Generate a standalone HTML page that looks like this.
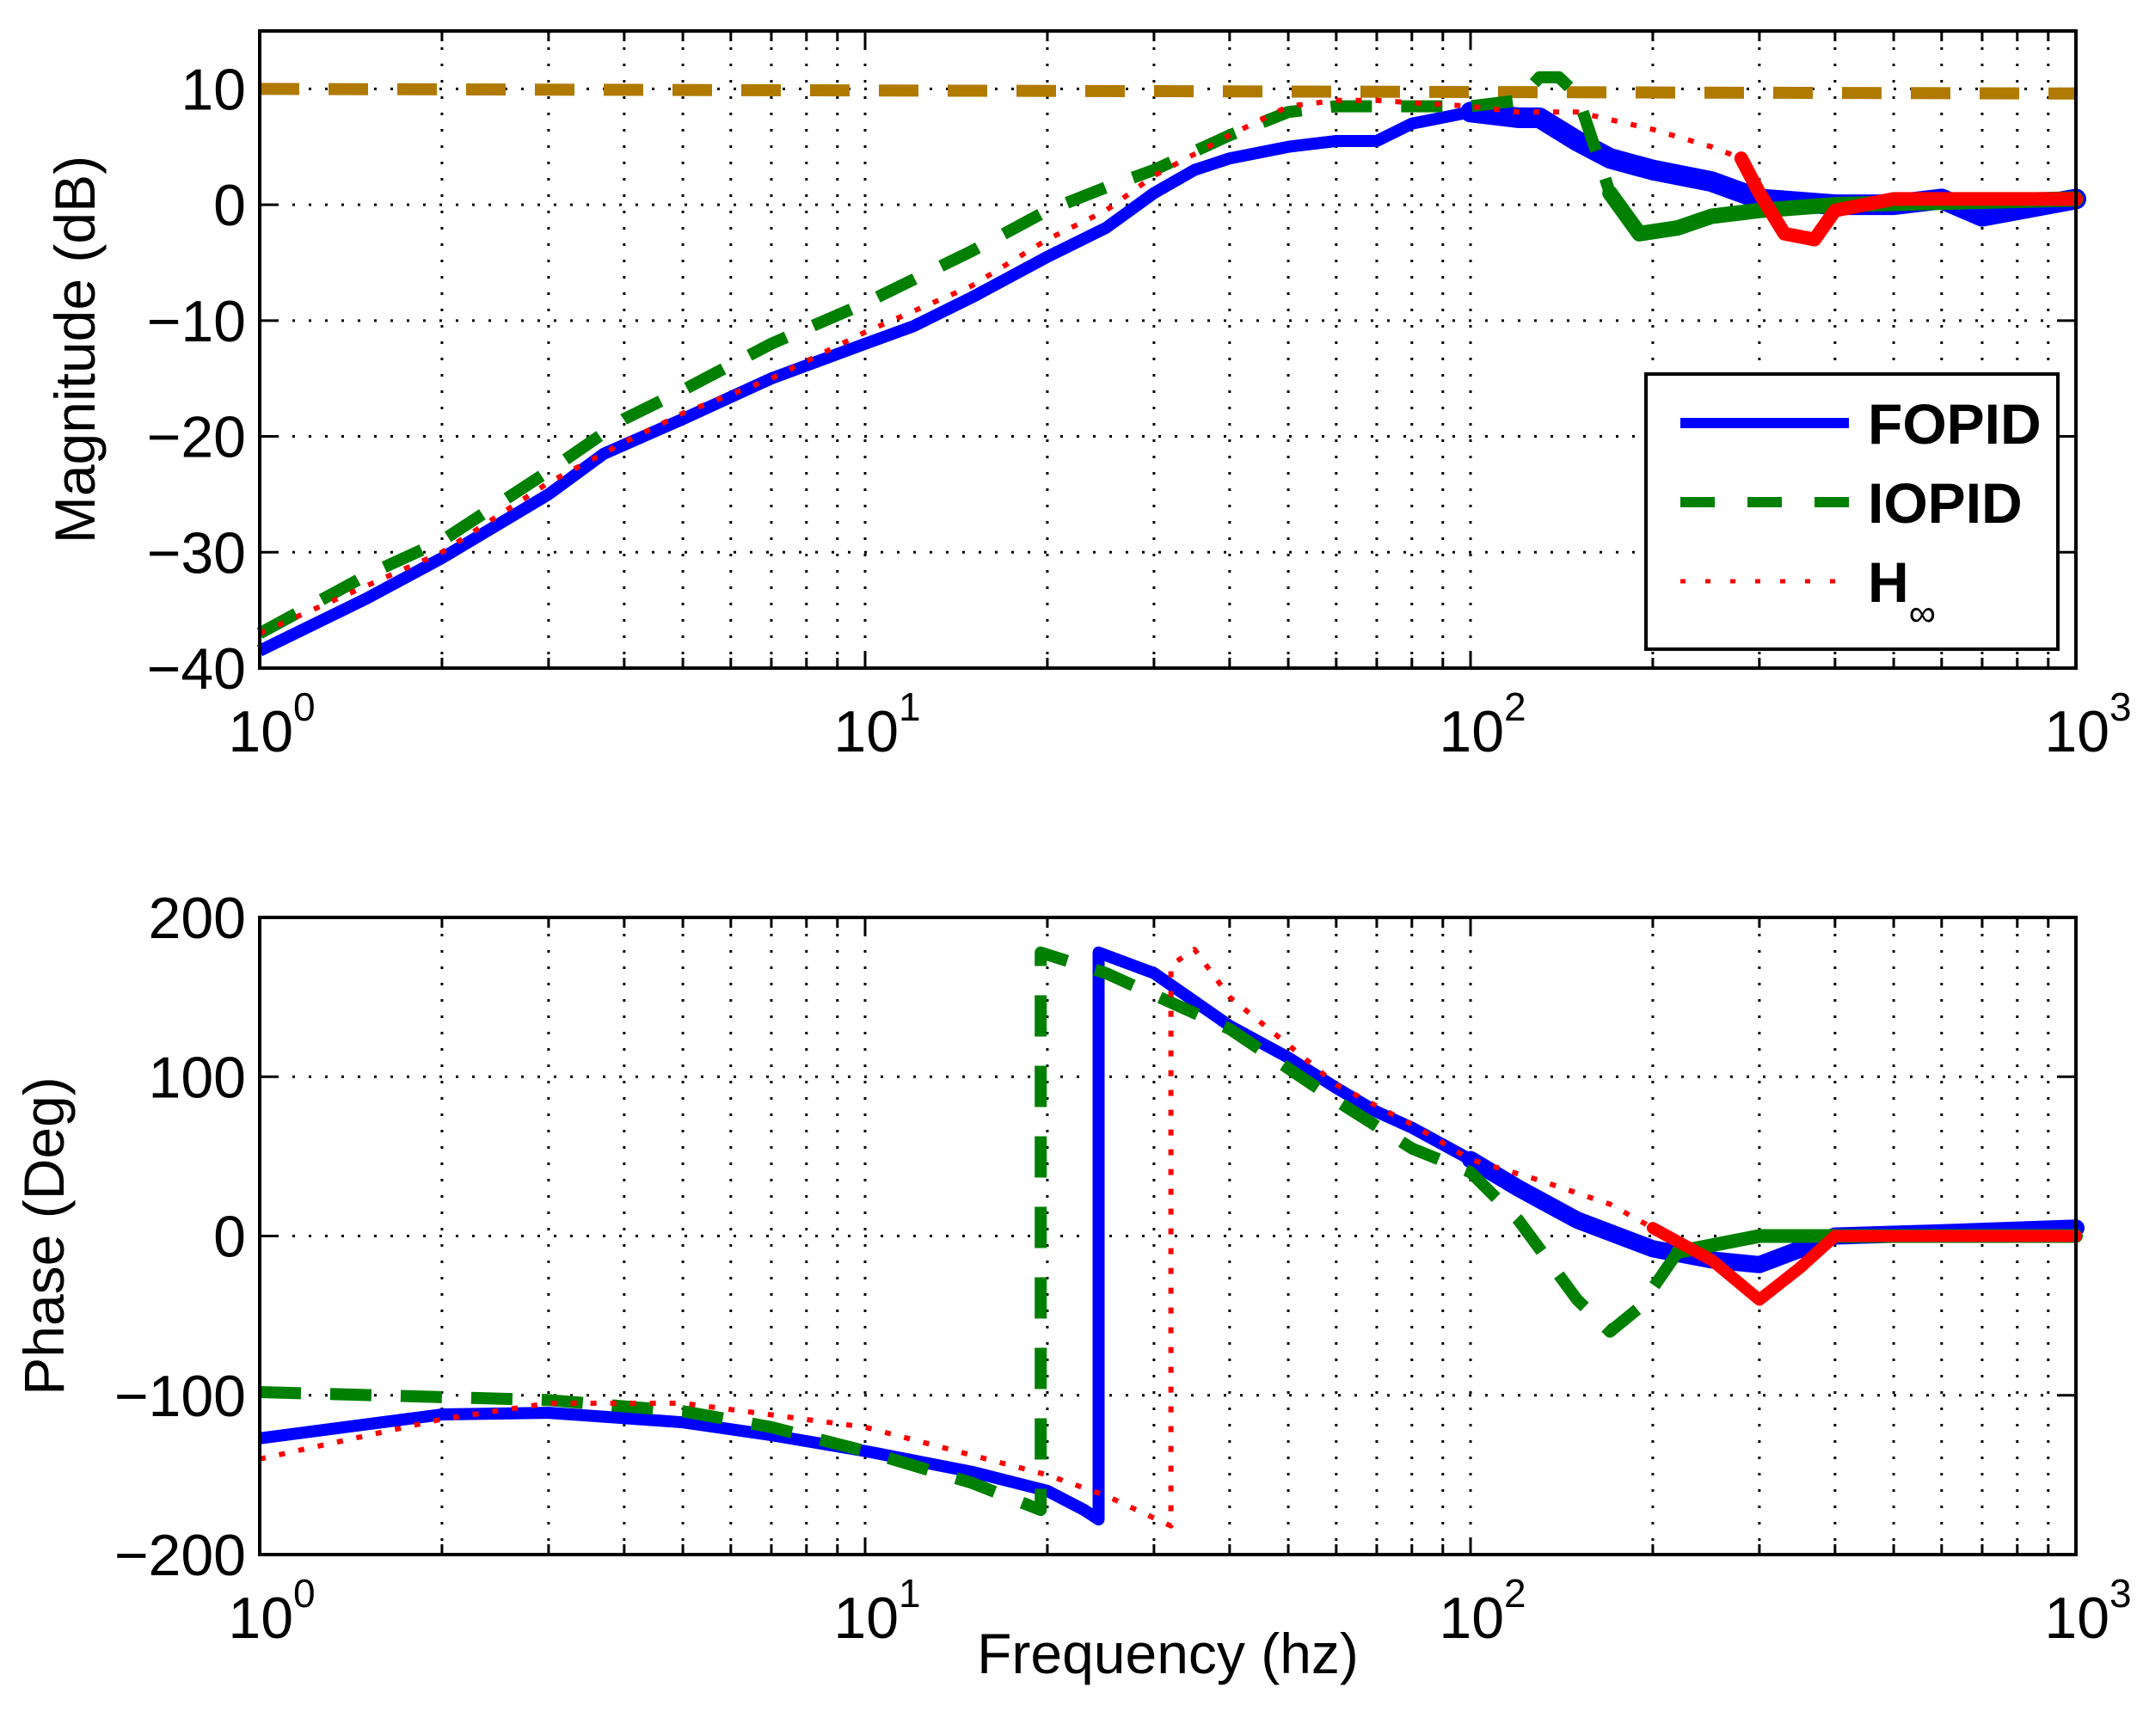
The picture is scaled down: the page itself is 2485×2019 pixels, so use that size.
<!DOCTYPE html>
<html><head><meta charset="utf-8"><style>
body{margin:0;background:#fff}
svg text{font-family:"Liberation Sans",sans-serif;fill:#000}
</style></head><body>
<svg id="c" width="2485" height="2014" xmlns="http://www.w3.org/2000/svg"></svg>
<script>
const magF=[1,1.5,2,3,3.7,5,7,10,12,15,20,25,30,35,40,50,60,70,80,100,120,130,150,170,200,250,300,400,500,600,700,1000];
const magFOPID=[-38.5,-34,-30.5,-25,-21.5,-18.5,-15,-12,-10.5,-8,-4.5,-2,1,3,4,5,5.5,5.5,7,8,7.5,7.5,5.5,4,3,2,0.5,0,0,0.5,-1,0.5];
const magIF=[1,1.5,2,3,4,5,7,10,15,20,25,30,40,50,60,70,100,120,130,140,150,170,190,220,250,300,400,1000];
const magIOPID=[-37,-32,-29,-23,-18.5,-16,-12,-8.5,-4,-0.5,1.5,3,6,8,8.5,8.5,8.5,9,11,11,9.5,1,-2.5,-2,-1,-0.5,0,0.5];
const magHF=[1,2,3,4,5,7,10,15,20,25,30,40,50,60,70,100,120,150,200,250,280,300,330,370,400,500,1000];
const magHinf=[-37,-30,-24,-20.5,-18,-15,-11,-7,-3,-0.5,2.5,6,8.5,9,9,8.5,8,8,6.5,5,4,1,-2.5,-3,-0.5,0.5,0.5];
const refF=[1,1000];
const refMag=[10,9.6];
const phF=[1,2,3,5,7,10,15,20,23,24.3,24.3,30,40,50,60,70,80,100,120,150,200,250,300,400,600,1000];
const phFOPID=[-127,-112,-111,-117,-125,-135,-148,-160,-172,-178,178,165,132,112,93,78,68,48,30,10,-8,-15,-18,0,2,5];
const phIF=[1,3,5,7,10,15,19.5,19.5,25,40,60,80,100,120,150,170,190,220,300,1000];
const phIOPID=[-98,-103,-110,-120,-135,-155,-172,178,165,130,85,55,40,10,-40,-60,-45,-10,0,0];
const phHF=[1,2,3,5,10,20,25,32,32,35,40,50,60,80,100,130,170,200,250,300,350,400,1000];
const phHinf=[-140,-115,-105,-105,-120,-150,-163,-182,170,180,150,120,95,70,48,35,20,5,-15,-40,-20,0,0];
const magTicks=[-40,-30,-20,-10,0,10];
const phTicks=[-200,-100,0,100,200];
const decades=[0,1,2,3];

const svg=document.getElementById('c');
const NS='http://www.w3.org/2000/svg';
function mk(t,a,p){const e=document.createElementNS(NS,t);for(const k in a)e.setAttribute(k,a[k]);(p||svg).appendChild(e);return e;}
const X0=302,X1=2414;
function xs(f){return X0+Math.log10(f)*(X1-X0)/3;}
function axes(top,bot,ymin,ymax,ticks,name,ylabel,ylx){
  const ys=v=>bot-(v-ymin)/(ymax-ymin)*(bot-top);
  const g=mk('g',{});
  
  
  for(let d=0;d<3;d++)for(let m=1;m<10;m++){
    const x=xs(Math.pow(10,d)*m);
    if(m>1||d>0){const l=mk('line',{x1:x,x2:x,y1:top,y2:bot,stroke:'#000','stroke-width':3,'stroke-dasharray':'3 16'},g);
      }
    const tl=m==1?20:12;
    mk('line',{x1:x,x2:x,y1:bot,y2:bot-tl,stroke:'#000','stroke-width':3},g);
    mk('line',{x1:x,x2:x,y1:top,y2:top+tl,stroke:'#000','stroke-width':3},g);
  }
  ticks.forEach(v=>{
    const y=ys(v);
    if(v>ymin&&v<ymax){const l=mk('line',{x1:X0,x2:X1,y1:y,y2:y,stroke:'#000','stroke-width':3,'stroke-dasharray':'3 16'},g);
      }
    mk('line',{x1:X0,x2:X0+20,y1:y,y2:y,stroke:'#000','stroke-width':3},g);
    mk('line',{x1:X1,x2:X1-20,y1:y,y2:y,stroke:'#000','stroke-width':3},g);
    const t=mk('text',{x:X0-16,y:y+24,'font-size':68,'text-anchor':'end'},g);
    t.textContent=(v<0?'\u2212':'')+Math.abs(v);
    
  });
  decades.forEach(d=>{
    const x=xs(Math.pow(10,d));
    const t=mk('text',{x:x+14,y:bot+97,'font-size':68,'text-anchor':'middle'},g);
    t.textContent='10';
    const s=mk('tspan',{dy:-36,'font-size':46},t);s.textContent=d;
    
  });
  const yl=mk('text',{x:ylx,y:(top+bot)/2,'font-size':66,'text-anchor':'middle',transform:`rotate(-90 ${ylx} ${(top+bot)/2})`},g);
  yl.textContent=ylabel;
  
  return ys;
}
function series(fs,vs,ys,style,name){
  const pts=fs.map((f,i)=>xs(f).toFixed(1)+','+ys(vs[i]).toFixed(1)).join(' ');
  const p=mk('polyline',Object.assign({points:pts,fill:'none','stroke-linejoin':'round'},style));
  
  
}
function noise(fs,vs,ys,color,w,name,fmin){
  const idx=fs.map((f,i)=>i).filter(i=>fs[i]>=fmin);
  const pts=idx.map(i=>xs(fs[i]).toFixed(1)+','+ys(vs[i]).toFixed(1)).join(' ');
  const p=mk('polyline',{points:pts,fill:'none',stroke:color,'stroke-width':w,'stroke-linejoin':'round','stroke-linecap':'round'});
  
  
}
const T1=36,B1=777,T2=1067,B2=1808;
const ysM=axes(T1,B1,-40,15,magTicks,'magnitude','Magnitude (dB)',110);
series(refF,refMag,ysM,{stroke:'#b07a00','stroke-width':14,'stroke-dasharray':'46 34'},'reference-10db-line');
series(magF,magFOPID,ysM,{stroke:'#0000ff','stroke-width':14},'fopid-magnitude-line');
noise(magF,magFOPID,ysM,'#0000ff',24,'fopid-magnitude-noise-band',100);
series(magIF,magIOPID,ysM,{stroke:'#008000','stroke-width':14,'stroke-dasharray':'48 34'},'iopid-magnitude-line');
noise(magIF,magIOPID,ysM,'#008000',18,'iopid-magnitude-noise-band',170);
series(magHF,magHinf,ysM,{stroke:'#ff0000','stroke-width':6,'stroke-dasharray':'7 16'},'hinf-magnitude-line');
noise(magHF,magHinf,ysM,'#ff0000',16,'hinf-magnitude-noise-band',280);
mk('rect',{x:X0,y:T1,width:X1-X0,height:B1-T1,fill:'none',stroke:'#000','stroke-width':4});
const ysP=axes(T2,B2,-200,200,phTicks,'phase','Phase (Deg)',74);
series(phF,phFOPID,ysP,{stroke:'#0000ff','stroke-width':14},'fopid-phase-line');
noise(phF,phFOPID,ysP,'#0000ff',20,'fopid-phase-noise-band',100);
series(phIF,phIOPID,ysP,{stroke:'#008000','stroke-width':14,'stroke-dasharray':'48 34'},'iopid-phase-line');
noise(phIF,phIOPID,ysP,'#008000',16,'iopid-phase-noise-band',220);
series(phHF,phHinf,ysP,{stroke:'#ff0000','stroke-width':6,'stroke-dasharray':'7 16'},'hinf-phase-line');
noise(phHF,phHinf,ysP,'#ff0000',14,'hinf-phase-noise-band',200);
mk('rect',{x:X0,y:T2,width:X1-X0,height:B2-T2,fill:'none',stroke:'#000','stroke-width':4});
const xl=mk('text',{x:1358,y:1946,'font-size':66,'text-anchor':'middle'});xl.textContent='Frequency (hz)';

const lg=mk('g',{});

mk('rect',{x:1914,y:435,width:479,height:320,fill:'#fff',stroke:'#000','stroke-width':4},lg);
const items=[['FOPID',{stroke:'#0000ff','stroke-width':12}],['IOPID',{stroke:'#008000','stroke-width':12,'stroke-dasharray':'40 38'}],['H',{stroke:'#ff0000','stroke-width':5,'stroke-dasharray':'6 23'}]];
items.forEach((it,i)=>{
  const y=492+i*92;
  const l=mk('line',Object.assign({x1:1954,x2:2150,y1:y,y2:y},it[1]),lg);
  
  const t=mk('text',{x:2172,y:y+24,'font-size':66,'font-weight':'bold'},lg);
  t.textContent=it[0];
  if(i==2){const s=mk('tspan',{dy:28,'font-size':44,'font-weight':'normal'},t);s.textContent='\u221e';}
  
});
</script>
</body></html>
